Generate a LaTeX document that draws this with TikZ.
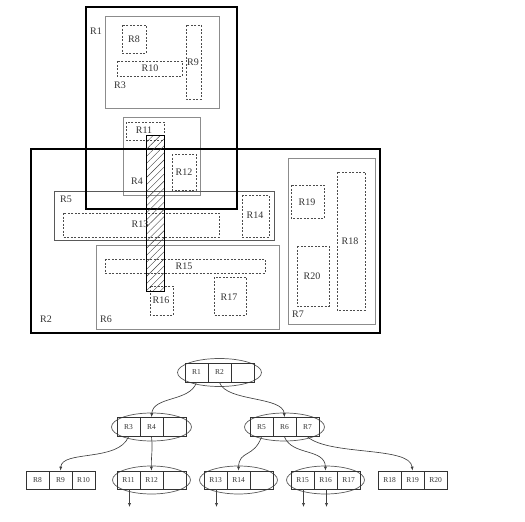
\documentclass[tikz,border=0pt]{standalone}
\usepackage{fontspec}
\setmainfont{Liberation Serif}
\usetikzlibrary{patterns.meta,shapes.geometric,arrows.meta}
\begin{document}
\begin{tikzpicture}[x=1pt,y=-1pt,
 thickbox/.style={draw=black,line width=1.6pt},
 grayb/.style={draw=black!45,line width=0.7pt},
 darkb/.style={draw=black!65,line width=0.8pt},
 dbox/.style={draw=black!70,dash pattern=on 2pt off 1.5pt,line width=0.8pt},
 lab/.style={font=\fontsize{10}{12}\selectfont,text=black!80,inner sep=0pt},
 cell/.style={draw=black!80,line width=0.7pt,minimum width=23pt,minimum height=19pt,inner sep=0pt,font=\fontsize{7.5}{9}\selectfont,text=black!80},
 ring/.style={draw=black!65,ellipse,line width=0.7pt,minimum width=80pt,minimum height=28pt,inner sep=0pt},
 link/.style={draw=black!75,line width=0.65pt,-{Latex[length=4pt,width=3.2pt]}}
]
\useasboundingbox (0,0) rectangle (525,522);

% ---------- spatial layout ----------
% gray container rectangles
\draw[grayb] (105,16) rectangle (219,108);   % R3
\draw[grayb] (123,117) rectangle (200,195);  % R4
\draw[darkb] (54,191) rectangle (274,240);   % R5
\draw[grayb] (96,245) rectangle (279,329);   % R6
\draw[grayb] (288,158) rectangle (375,324);  % R7

% dashed leaf rectangles
\draw[dbox] (122,25) rectangle (146,53);     % R8
\draw[dbox] (186,25) rectangle (201,99);     % R9
\draw[dbox] (117,61) rectangle (182,76);     % R10
\draw[dbox] (126,122) rectangle (164,140);   % R11
\draw[dbox] (172,154) rectangle (196,190);   % R12
\draw[dbox] (63,213) rectangle (219,237);    % R13
\draw[dbox] (242,195) rectangle (269,237);   % R14
\draw[dbox] (105,259) rectangle (265,273);   % R15
\draw[dbox] (150,286) rectangle (173,315);   % R16
\draw[dbox] (214,277) rectangle (246,315);   % R17
\draw[dbox] (337,172) rectangle (365,310);   % R18
\draw[dbox] (291,185) rectangle (324,218);   % R19
\draw[dbox] (297,246) rectangle (329,306);   % R20

% thick top-level rectangles
\draw[thickbox] (86,7) rectangle (237,209);    % R1
\draw[thickbox] (31,149) rectangle (380,333);  % R2

% hatched query rectangle
\draw[draw=black,line width=0.8pt,pattern={Lines[angle=45,distance=5pt,line width=0.4pt]},pattern color=black!75] (146,135) rectangle (164,291);

% labels
\node[lab] (lR1) at (96,31) {R1};
\node[lab] (lR2) at (46,319) {R2};
\node[lab] (lR3) at (120,85) {R3};
\node[lab] (lR4) at (137,181) {R4};
\node[lab] (lR5) at (66,199) {R5};
\node[lab] (lR6) at (106,319) {R6};
\node[lab] (lR7) at (298,314) {R7};
\node[lab] (lR8) at (134,39) {R8};
\node[lab] (lR9) at (193,62) {R9};
\node[lab] (lR10) at (150,68) {R10};
\node[lab] (lR11) at (144,130) {R11};
\node[lab] (lR12) at (184,172) {R12};
\node[lab] (lR13) at (140,224) {R13};
\node[lab] (lR14) at (255,215) {R14};
\node[lab] (lR15) at (184,266) {R15};
\node[lab] (lR16) at (161,300) {R16};
\node[lab] (lR17) at (229,297) {R17};
\node[lab] (lR18) at (350,241) {R18};
\node[lab] (lR19) at (307,202) {R19};
\node[lab] (lR20) at (312,276) {R20};

% ---------- tree ----------
% ellipses
\node[ring,minimum width=84pt] (e0) at (219.5,372.5) {};
\node[ring] (eL) at (151.5,427) {};
\node[ring] (eR) at (284.5,427) {};
\node[ring,minimum width=78pt] (e11) at (151.5,480) {};
\node[ring,minimum width=78pt] (e13) at (238.5,480) {};
\node[ring,minimum width=78pt] (e15) at (325.5,480) {};

% root
\node[cell] (r1) at (196.5,372.5) {R1};
\node[cell] (r2) at (219.5,372.5) {R2};
\node[cell] (r0e) at (242.5,372.5) {};
% level 2
\node[cell] (r3) at (128.5,427) {R3};
\node[cell] (r4) at (151.5,427) {R4};
\node[cell] (rLe) at (174.5,427) {};
\node[cell] (r5) at (261.5,427) {R5};
\node[cell] (r6) at (284.5,427) {R6};
\node[cell] (r7) at (307.5,427) {R7};
% leaves
\node[cell,minimum height=18pt] (r8) at (37.5,480) {R8};
\node[cell,minimum height=18pt] (r9) at (60.5,480) {R9};
\node[cell,minimum height=18pt] (r10) at (83.5,480) {R10};
\node[cell,minimum height=18pt] (r11) at (128.5,480) {R11};
\node[cell,minimum height=18pt] (r12) at (151.5,480) {R12};
\node[cell,minimum height=18pt] (r11e) at (174.5,480) {};
\node[cell,minimum height=18pt] (r13) at (215.5,480) {R13};
\node[cell,minimum height=18pt] (r14) at (238.5,480) {R14};
\node[cell,minimum height=18pt] (r13e) at (261.5,480) {};
\node[cell,minimum height=18pt] (r15) at (302.5,480) {R15};
\node[cell,minimum height=18pt] (r16) at (325.5,480) {R16};
\node[cell,minimum height=18pt] (r17) at (348.5,480) {R17};
\node[cell,minimum height=18pt] (r18) at (389.5,480) {R18};
\node[cell,minimum height=18pt] (r19) at (412.5,480) {R19};
\node[cell,minimum height=18pt] (r20) at (435.5,480) {R20};

% connectors
\draw[link] (r1.south) .. controls (190,402) and (153,396) .. (r4.north);
\draw[link] (r2.south) .. controls (226,402) and (283,396) .. (r6.north);
\draw[link] (r3.south) .. controls (118,462) and (62,450) .. (r9.north);
\draw[link] (r4.south) .. controls (153,450) and (151,456) .. (r12.north);
\draw[link] (r5.south) .. controls (254,458) and (239,450) .. (r14.north);
\draw[link] (r6.south) .. controls (292,456) and (325,448) .. (r16.north);
\draw[link] (r7.south) .. controls (330,456) and (410,446) .. (r19.north);

\coordinate (d11) at (129.5,507);
\coordinate (d13) at (216.5,507);
\coordinate (d15) at (303.5,507);
\coordinate (d16) at (326.5,507);
\draw[link] (r11.south -| d11) -- (d11);
\draw[link] (r13.south -| d13) -- (d13);
\draw[link] (r15.south -| d15) -- (d15);
\draw[link] (r16.south -| d16) -- (d16);
\end{tikzpicture}
\end{document}
